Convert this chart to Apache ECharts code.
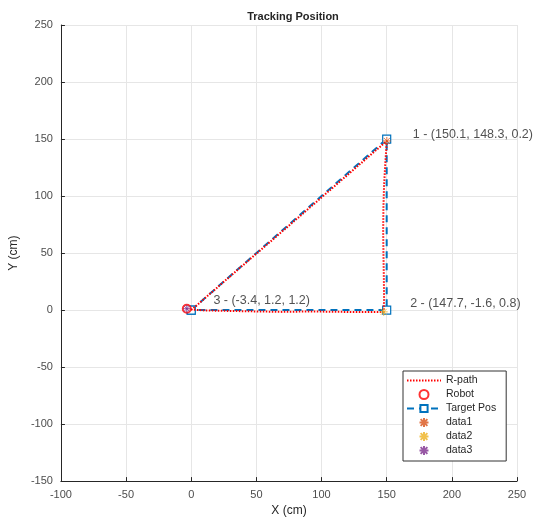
<!DOCTYPE html>
<html>
<head>
<meta charset="utf-8">
<script src="https://cdn.jsdelivr.net/npm/echarts@6/dist/echarts.min.js"></script>
<style>
  html, body { margin: 0; padding: 0; background: #fff; }
  #chart { width: 554px; height: 522px; }
</style>
</head>
<body>
<div id="chart"></div>
<script>
// target waypoints (square markers, dashed path)
const targetPos = [[0, 0], [150, 150], [150, 0], [0, 0]]
// measured robot path (dotted red)
const robotPath = [
  [0, 0], [20, 19.8], [40, 39.6], [60, 59.3], [80, 79], [100, 98.8], [120, 118.6], [140, 138.4], [150.1, 148.3],
  [149, 130], [148, 110], [147.5, 90], [147.3, 70], [147.5, 50], [147.8, 30], [148, 10], [147.7, -1.6],
  [130, -1.8], [110, -1.5], [90, -1.2], [70, -1.6], [50, -1.2], [30, -0.8], [10, -0.3], [0, 0.5], [-3.4, 1.2]
]
const robotStart = [[-3.4, 1.2]]
const data1 = [[150.1, 148.3]]
const data2 = [[147.7, -1.6]]
const data3 = [[-3.4, 1.2]]
// annotation text and where it sits
const noteTexts = ['1 - (150.1, 148.3, 0.2)', '2 - (147.7, -1.6, 0.8)', '3 - (-3.4, 1.2, 1.2)']
const notePos = [[170, 154], [168, 5.5], [17, 8.5]]
const xTicks = { min: -100, max: 250, step: 50 }
const yTicks = { min: -150, max: 250, step: 50 }

const star = 'path://M0,-10L0,10M-10,0L10,0M-7.5,-7.5L7.5,7.5M-7.5,7.5L7.5,-7.5'
const font = 'Liberation Sans, Arial, sans-serif'
const tickColor = '#4d4d4d'

const chart = echarts.init(document.getElementById('chart'))

const axisCommon = {
  nameLocation: 'middle',
  nameTextStyle: { color: '#262626', fontSize: 12, fontFamily: font },
  axisLine: { show: true, onZero: false, lineStyle: { color: '#262626', width: 1 } },
  axisTick: { show: true, inside: true, length: 4, lineStyle: { color: '#262626' } },
  axisLabel: { color: tickColor, fontSize: 11, fontFamily: font },
  splitLine: { show: true, lineStyle: { color: '#e6e6e6', width: 1 } }
}

chart.setOption({
  animation: false,
  backgroundColor: '#fff',
  title: {
    text: 'Tracking Position',
    left: 288,
    textAlign: 'center',
    top: 6,
    textStyle: { fontSize: 11, fontWeight: 'bold', color: '#262626', fontFamily: font }
  },
  grid: { left: 60, right: 37, top: 25, bottom: 39 },
  xAxis: Object.assign({}, axisCommon, {
    type: 'value', name: 'X (cm)', nameGap: 20,
    min: xTicks.min, max: xTicks.max, interval: xTicks.step
  }),
  yAxis: Object.assign({}, axisCommon, {
    type: 'value', name: 'Y (cm)', nameGap: 34,
    min: yTicks.min, max: yTicks.max, interval: yTicks.step
  }),
  legend: {
    orient: 'vertical',
    left: 403,
    top: 371,
    itemWidth: 34,
    itemHeight: 9,
    itemGap: 3,
    padding: [4, 10, 5, 3],
    borderColor: '#333',
    borderWidth: 1,
    backgroundColor: '#fff',
    textStyle: { fontSize: 10.5, color: '#262626', fontFamily: font },
    data: [
      { name: 'R-path', itemStyle: { opacity: 0 } },
      'Robot', 'Target Pos', 'data1', 'data2', 'data3'
    ]
  },
  series: [
    {
      name: 'Target Pos',
      type: 'line',
      data: targetPos,
      symbol: 'rect',
      symbolSize: 8,
      itemStyle: { color: '#fff', borderColor: '#0072BD', borderWidth: 1.2 },
      lineStyle: { color: '#0072BD', width: 2, type: [7, 5] },
      z: 2
    },
    {
      name: 'R-path',
      type: 'line',
      data: robotPath,
      symbol: 'none',
      lineStyle: { color: '#ff0000', width: 2, type: [1.5, 1.5] },
      itemStyle: { color: '#ff0000' },
      z: 3
    },
    {
      name: 'Robot',
      type: 'scatter',
      data: robotStart,
      symbol: 'emptyCircle',
      symbolSize: 8,
      itemStyle: { color: '#ff0000', borderColor: '#ff3030', borderWidth: 1 },
      z: 4
    },
    {
      name: 'data1',
      type: 'scatter',
      data: data1,
      symbol: star,
      symbolSize: 8,
      itemStyle: { color: '#D95319', borderColor: '#D95319', borderWidth: 1 },
      z: 5
    },
    {
      name: 'data2',
      type: 'scatter',
      data: data2,
      symbol: star,
      symbolSize: 8,
      itemStyle: { color: '#EDB120', borderColor: '#EDB120', borderWidth: 1 },
      z: 5
    },
    {
      name: 'data3',
      type: 'scatter',
      data: data3,
      symbol: star,
      symbolSize: 8,
      itemStyle: { color: '#7E2F8E', borderColor: '#7E2F8E', borderWidth: 1 },
      z: 5
    },
    {
      name: 'notes',
      type: 'scatter',
      data: notePos.map((p, i) => ({ value: p, name: noteTexts[i] })),
      symbolSize: 0,
      silent: true,
      label: {
        show: true,
        position: 'right',
        distance: 0,
        formatter: p => p.name,
        fontSize: 12.5,
        color: '#262626',
        fontFamily: font
      },
      z: 6
    }
  ]
})
</script>
</body>
</html>
